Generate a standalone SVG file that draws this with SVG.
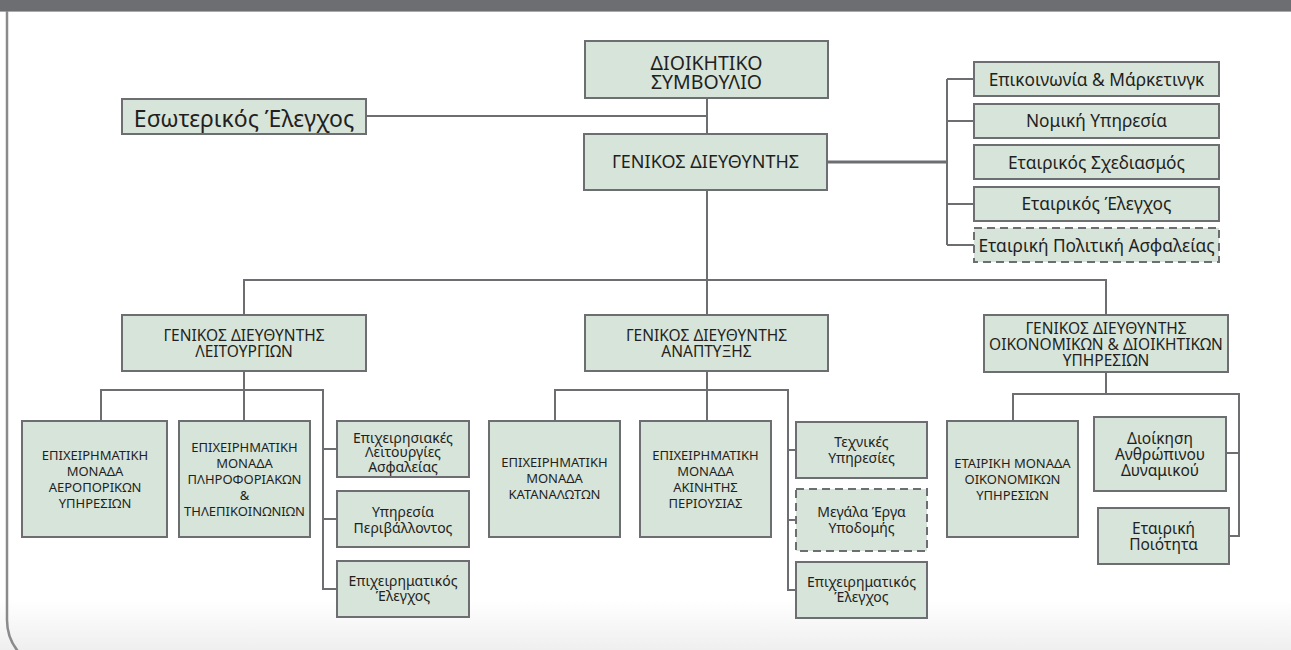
<svg xmlns="http://www.w3.org/2000/svg" width="1291" height="650" viewBox="0 0 1291 650">
<defs>
<linearGradient id="bg" x1="0" y1="0" x2="0" y2="1">
<stop offset="0" stop-color="#ffffff"/>
<stop offset="1" stop-color="#efefef"/>
</linearGradient>
<style>
.box{fill:#d7e4da;stroke:#6d6e71;stroke-width:2}
.dash{stroke-dasharray:8 5}
.t{font-family:"Noto Sans","Open Sans","Liberation Sans",sans-serif;fill:#231f20;text-anchor:middle}
.c{fill:none;stroke:#6d6e71;stroke-width:2}
.f21{font-size:19.5px}.f22{font-size:23px}.f18{font-size:18px}.f17{font-size:17.3px}.f15{font-size:15.5px}.f13{font-size:13px}.f14{font-size:14px}
</style>
</defs>
<rect x="0" y="0" width="1291" height="650" fill="#ffffff"/>
<rect x="0" y="600" width="1291" height="50" fill="url(#bg)"/>
<rect x="0" y="0" width="1291" height="11" fill="#6d6e71"/>
<line x1="0" y1="11.5" x2="1291" y2="11.5" stroke="#a7a9ac" stroke-width="1"/>
<path d="M7,11 V620 A50,50 0 0 0 57,670" fill="none" stroke="#8a8b8d" stroke-width="2.5"/>

<g id="connectors">
<path class="c" d="M707,98 V134"/>
<path class="c" d="M366,116 H707"/>
<path class="c" d="M827,162 H947" style="stroke-width:3"/>
<path class="c" d="M947,79 V245 M947,79 H974 M947,121 H974 M947,204 H974 M947,245 H974"/>
<path class="c" d="M707,190 V315 M244,315 V280 H1106 V315"/>
<path class="c" d="M244,371 V421 M101,421 V390 H323 V589 H337 M323,449 H337 M323,519 H337"/>
<path class="c" d="M707,371 V421 M555,421 V390 H788 V590 H796 M788,450 H796 M788,520 H796"/>
<path class="c" d="M1106,372 V394 M1013,421 V394 H1239 V536 H1229 M1239,453 H1226"/>
</g>

<g id="board"><rect class="box" x="585" y="41" width="243" height="57"/>
<text class="t f21" x="706.5" y="70">ΔΙΟΙΚΗΤΙΚΟ</text><text class="t f21" x="706.5" y="88.5">ΣΥΜΒΟΥΛΙΟ</text></g>
<g id="internal-audit"><rect class="box" x="122" y="99" width="244" height="35"/>
<text class="t f22" x="244" y="126.5">Εσωτερικός Έλεγχος</text></g>
<g id="gm"><rect class="box" x="584" y="134" width="243" height="56"/>
<text class="t f18" x="705.5" y="168">ΓΕΝΙΚΟΣ ΔΙΕΥΘΥΝΤΗΣ</text></g>

<g id="r1"><rect class="box" x="974" y="62" width="245" height="34"/><text class="t f17" x="1096.5" y="85.5">Επικοινωνία &amp; Μάρκετινγκ</text></g>
<g id="r2"><rect class="box" x="974" y="104" width="245" height="34"/><text class="t f17" x="1096.5" y="127">Νομική Υπηρεσία</text></g>
<g id="r3"><rect class="box" x="974" y="145" width="245" height="34"/><text class="t f17" x="1096.5" y="168.5">Εταιρικός Σχεδιασμός</text></g>
<g id="r4"><rect class="box" x="974" y="187" width="245" height="34"/><text class="t f17" x="1096.5" y="210">Εταιρικός Έλεγχος</text></g>
<g id="r5"><rect class="box dash" x="974" y="228" width="245" height="34"/><text class="t f17" x="1096.5" y="251.5">Εταιρική Πολιτική Ασφαλείας</text></g>

<g id="gm-ops"><rect class="box" x="122" y="315" width="244" height="56"/>
<text class="t f15" x="244" y="340.7">ΓΕΝΙΚΟΣ ΔΙΕΥΘΥΝΤΗΣ</text><text class="t f15" x="244" y="356.7">ΛΕΙΤΟΥΡΓΙΩΝ</text></g>
<g id="gm-dev"><rect class="box" x="585" y="315" width="243" height="56"/>
<text class="t f15" x="706.5" y="340.7">ΓΕΝΙΚΟΣ ΔΙΕΥΘΥΝΤΗΣ</text><text class="t f15" x="706.5" y="356.7">ΑΝΑΠΤΥΞΗΣ</text></g>
<g id="gm-fin"><rect class="box" x="984" y="315" width="244" height="57"/>
<text class="t f15" x="1106" y="334">ΓΕΝΙΚΟΣ ΔΙΕΥΘΥΝΤΗΣ</text><text class="t f15" x="1106" y="350">ΟΙΚΟΝΟΜΙΚΩΝ &amp; ΔΙΟΙΚΗΤΙΚΩΝ</text><text class="t f15" x="1106" y="366">ΥΠΗΡΕΣΙΩΝ</text></g>

<g id="bu-air"><rect class="box" x="22" y="421" width="145" height="116"/>
<text class="t f13" x="95" y="460">ΕΠΙΧΕΙΡΗΜΑΤΙΚΗ</text><text class="t f13" x="95" y="476">ΜΟΝΑΔΑ</text><text class="t f13" x="95" y="492">ΑΕΡΟΠΟΡΙΚΩΝ</text><text class="t f13" x="95" y="507.5">ΥΠΗΡΕΣΙΩΝ</text></g>
<g id="bu-it"><rect class="box" x="179" y="421" width="131" height="116"/>
<text class="t f13" x="244.5" y="451.7">ΕΠΙΧΕΙΡΗΜΑΤΙΚΗ</text><text class="t f13" x="244.5" y="467.7">ΜΟΝΑΔΑ</text><text class="t f13" x="244.5" y="483.7">ΠΛΗΡΟΦΟΡΙΑΚΩΝ</text><text class="t f13" x="244.5" y="499.5">&amp;</text><text class="t f13" x="244.5" y="515.5">ΤΗΛΕΠΙΚΟΙΝΩΝΙΩΝ</text></g>
<g id="ops-sec"><rect class="box" x="337" y="421" width="132" height="56"/>
<text class="t f14" x="403" y="442.5">Επιχειρησιακές</text><text class="t f14" x="403" y="457">Λειτουργίες</text><text class="t f14" x="403" y="471.5">Ασφαλείας</text></g>
<g id="ops-env"><rect class="box" x="337" y="491" width="132" height="56"/>
<text class="t f14" x="403" y="517">Υπηρεσία</text><text class="t f14" x="403" y="532.5">Περιβάλλοντος</text></g>
<g id="ops-ctrl"><rect class="box" x="337" y="561" width="132" height="56"/>
<text class="t f14" x="403" y="586">Επιχειρηματικός</text><text class="t f14" x="403" y="601">Έλεγχος</text></g>

<g id="bu-cons"><rect class="box" x="489" y="421" width="131" height="116"/>
<text class="t f13" x="554.5" y="467.3">ΕΠΙΧΕΙΡΗΜΑΤΙΚΗ</text><text class="t f13" x="554.5" y="483.3">ΜΟΝΑΔΑ</text><text class="t f13" x="554.5" y="499.3">ΚΑΤΑΝΑΛΩΤΩΝ</text></g>
<g id="bu-prop"><rect class="box" x="640" y="421" width="131" height="116"/>
<text class="t f13" x="705.5" y="459.5">ΕΠΙΧΕΙΡΗΜΑΤΙΚΗ</text><text class="t f13" x="705.5" y="475.5">ΜΟΝΑΔΑ</text><text class="t f13" x="705.5" y="491.5">ΑΚΙΝΗΤΗΣ</text><text class="t f13" x="705.5" y="507.5">ΠΕΡΙΟΥΣΙΑΣ</text></g>
<g id="dev-tech"><rect class="box" x="796" y="422" width="131" height="56"/>
<text class="t f14" x="861.5" y="446.7">Τεχνικές</text><text class="t f14" x="861.5" y="462.7">Υπηρεσίες</text></g>
<g id="dev-infra"><rect class="box dash" x="796" y="489" width="131" height="62"/>
<text class="t f14" x="861.5" y="516.7">Μεγάλα Έργα</text><text class="t f14" x="861.5" y="533">Υποδομής</text></g>
<g id="dev-ctrl"><rect class="box" x="796" y="562" width="131" height="56"/>
<text class="t f14" x="861.5" y="586.7">Επιχειρηματικός</text><text class="t f14" x="861.5" y="601.7">Έλεγχος</text></g>

<g id="bu-fin"><rect class="box" x="947" y="421" width="131" height="116"/>
<text class="t f13" x="1012.5" y="468.3">ΕΤΑΙΡΙΚΗ ΜΟΝΑΔΑ</text><text class="t f13" x="1012.5" y="484.3">ΟΙΚΟΝΟΜΙΚΩΝ</text><text class="t f13" x="1012.5" y="500">ΥΠΗΡΕΣΙΩΝ</text></g>
<g id="fin-hr"><rect class="box" x="1094" y="417" width="132" height="74"/>
<text class="t f15" x="1160" y="444">Διοίκηση</text><text class="t f15" x="1160" y="460">Ανθρώπινου</text><text class="t f15" x="1160" y="476">Δυναμικού</text></g>
<g id="fin-qual"><rect class="box" x="1098" y="508" width="131" height="56"/>
<text class="t f15" x="1163.5" y="534">Εταιρική</text><text class="t f15" x="1163.5" y="550">Ποιότητα</text></g>
</svg>
